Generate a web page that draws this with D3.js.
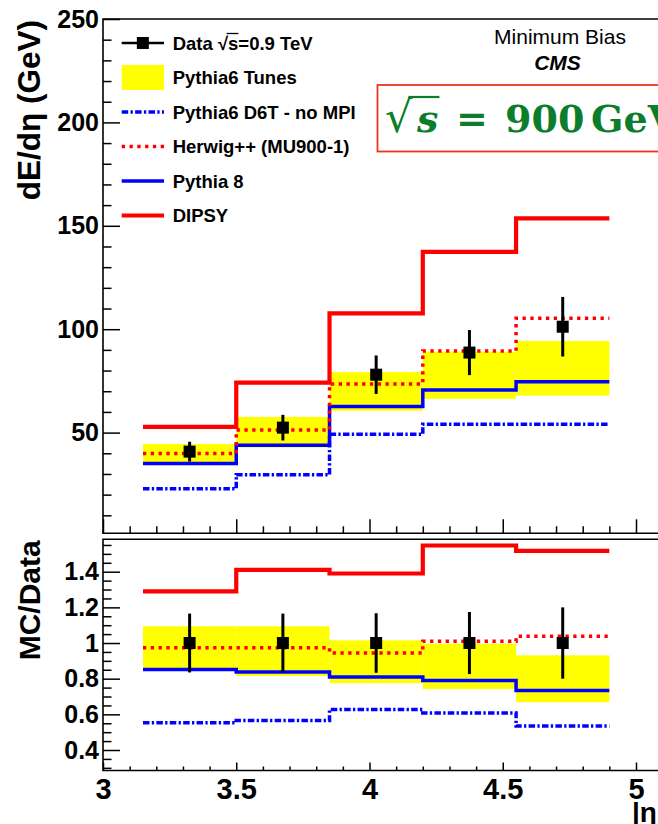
<!DOCTYPE html>
<html>
<head>
<meta charset="utf-8">
<script src="https://cdn.jsdelivr.net/npm/d3@7"></script>
<style>
  body { margin: 0; background: #fff; }
  svg { display: block; }
  text { font-family: "Liberation Sans", Arial, Helvetica, sans-serif; }
  text.serif { font-family: "DejaVu Serif", "Liberation Serif", serif; }
</style>
</head>
<body>
<svg id="chart" width="658" height="824"></svg>
<script>
// ---- binning in |eta| ----
const binEdges   = [3.15, 3.5, 3.85, 4.2, 4.55, 4.9];
const binCenters = [3.325, 3.675, 4.025, 4.375, 4.725];

// ---- energy flow dE/deta (GeV) ----
const dataValues = [40.8, 52.4, 78.0, 88.7, 101.2];
const dataErrors = [4.8, 6.2, 9.3, 10.9, 14.4];
const tunesLow   = [34.4, 42.8, 60.6, 66.3, 67.9];
const tunesHigh  = [44.5, 57.6, 79.3, 89.1, 94.3];
const d6tNoMpi   = [22.8, 29.6, 49.2, 54.0, 54.0];
const herwigMU   = [39.9, 51.2, 73.5, 89.5, 105.3];
const pythia8    = [35.0, 43.9, 62.6, 70.6, 74.6];
const dipsy      = [52.8, 74.2, 107.7, 137.4, 153.6];

// ---- MC / Data ratios ----
const ratioDataErrors = [0.165, 0.165, 0.167, 0.174, 0.200];
const ratioTunesLow   = [0.846, 0.815, 0.775, 0.742, 0.668];
const ratioTunesHigh  = [1.094, 1.094, 1.015, 0.997, 0.931];
const ratioD6T        = [0.553, 0.566, 0.627, 0.607, 0.534];
const ratioHerwig     = [0.974, 0.974, 0.944, 1.010, 1.038];
const ratioPythia8    = [0.852, 0.837, 0.809, 0.790, 0.734];
const ratioDipsy      = [1.290, 1.410, 1.390, 1.547, 1.517];

// ---- tick labels ----
const xMajorTicks   = [3, 3.5, 4, 4.5, 5];
const yTopMajor     = [50, 100, 150, 200, 250];
const yRatioMajor   = [0.4, 0.6, 0.8, 1, 1.2, 1.4];

// ---- legend ----
const legendLabels = ["Data \u221As=0.9 TeV", "Pythia6 Tunes", "Pythia6 D6T - no MPI",
                      "Herwig++ (MU900-1)", "Pythia 8", "DIPSY"];

const RED = "#ff0000", BLUE = "#0000ff", YELLOW = "#ffff00";
const styles = {
  d6t:    { stroke: BLUE, width: 3.5, dash: "6.5,2.3,2.3,2.3" },
  herwig: { stroke: RED,  width: 3.5, dash: "3.3,4.5" },
  py8:    { stroke: BLUE, width: 3.5, dash: null },
  dipsy:  { stroke: RED,  width: 4.2, dash: null }
};

const svg = d3.select("#chart");

// scales
const x = d3.scaleLinear().domain([3, 5]).range([103, 636]);
const xEnd = x(5.2);
const yTop = d3.scaleLinear().domain([0, 250]).range([536, 19]);
const topFrame = { y0: yTop(250), y1: 533.3 };
const yRat = d3.scaleLinear().domain([0.4, 1.4]).range([750, 571.7]);
const ratFrame = { y0: 539.3, y1: 770.5 };

function stepPoints(vals) {
  const pts = [];
  vals.forEach((v, i) => { pts.push([binEdges[i], v]); pts.push([binEdges[i + 1], v]); });
  return pts;
}

function drawPanel(g, y, band, curves, dVals, dErrs) {
  // yellow tune envelope
  g.append("g").selectAll("rect").data(band.lo).join("rect")
    .attr("x", (d, i) => x(binEdges[i]))
    .attr("width", (d, i) => x(binEdges[i + 1]) - x(binEdges[i]))
    .attr("y", (d, i) => y(band.hi[i]))
    .attr("height", (d, i) => y(d) - y(band.hi[i]))
    .attr("fill", YELLOW);

  const line = d3.line().x(d => x(d[0])).y(d => y(d[1]));
  curves.forEach(c => {
    g.append("path")
      .attr("d", line(stepPoints(c.vals)))
      .attr("fill", "none")
      .attr("stroke", c.style.stroke)
      .attr("stroke-width", c.style.width)
      .attr("stroke-dasharray", c.style.dash)
      .attr("stroke-linejoin", "miter");
  });

  // data points with errors
  const pts = g.append("g");
  dVals.forEach((v, i) => {
    pts.append("line")
      .attr("x1", x(binCenters[i])).attr("x2", x(binCenters[i]))
      .attr("y1", y(v + dErrs[i])).attr("y2", y(v - dErrs[i]))
      .attr("stroke", "#000").attr("stroke-width", 3);
    pts.append("rect")
      .attr("x", x(binCenters[i]) - 6).attr("y", y(v) - 6)
      .attr("width", 12).attr("height", 12).attr("fill", "#000");
  });
}

// ---------- top panel ----------
const gTop = svg.append("g");
drawPanel(gTop, yTop, { lo: tunesLow, hi: tunesHigh },
  [ { vals: d6tNoMpi, style: styles.d6t },
    { vals: pythia8,  style: styles.py8 },
    { vals: herwigMU, style: styles.herwig },
    { vals: dipsy,    style: styles.dipsy } ],
  dataValues, dataErrors);

// ---------- ratio panel ----------
const gRat = svg.append("g");
drawPanel(gRat, yRat, { lo: ratioTunesLow, hi: ratioTunesHigh },
  [ { vals: ratioD6T,     style: styles.d6t },
    { vals: ratioPythia8, style: styles.py8 },
    { vals: ratioHerwig,  style: styles.herwig },
    { vals: ratioDipsy,   style: styles.dipsy } ],
  ratioDipsy.map(() => 1), ratioDataErrors);

// ---------- frames ----------
function frame(f) {
  svg.append("path")
    .attr("d", `M${xEnd},${f.y0}H${x(3)}V${f.y1}H${xEnd}`)
    .attr("fill", "none").attr("stroke", "#000").attr("stroke-width", 1.6);
}
frame(topFrame);
frame(ratFrame);

// ---------- axes ----------
const r10 = v => Math.round(v * 100) / 100;
const xMinor = d3.range(31, 52).map(i => i / 10).filter(v => !xMajorTicks.includes(r10(v)));

function styleAxis(sel, fontSize) {
  sel.select(".domain").remove();
  sel.selectAll(".tick line").attr("stroke", "#000").attr("stroke-width", 1.5);
  sel.selectAll("text").attr("fill", "#000").attr("font-size", fontSize)
    .attr("font-weight", "bold");
}

// top panel y
svg.append("g").attr("transform", `translate(${x(3)},0)`)
  .call(d3.axisLeft(yTop).tickValues(d3.range(10, 251, 10).filter(v => v % 50 !== 0))
    .tickSizeInner(-8.5).tickSizeOuter(0).tickFormat(""))
  .call(s => styleAxis(s, 25));
svg.append("g").attr("transform", `translate(${x(3)},0)`)
  .call(d3.axisLeft(yTop).tickValues(yTopMajor).tickSizeInner(-17).tickSizeOuter(0)
    .tickPadding(4).tickFormat(d3.format("d")))
  .call(s => styleAxis(s, 25));

// top panel x (no labels)
svg.append("g").attr("transform", `translate(0,${topFrame.y1})`)
  .call(d3.axisBottom(x).tickValues(xMinor).tickSizeInner(-7).tickSizeOuter(0).tickFormat(""))
  .call(s => styleAxis(s, 0));
svg.append("g").attr("transform", `translate(0,${topFrame.y1})`)
  .call(d3.axisBottom(x).tickValues(xMajorTicks).tickSizeInner(-14).tickSizeOuter(0).tickFormat(""))
  .call(s => styleAxis(s, 0));

// ratio y
const ratMinor = d3.range(6, 32).map(i => i * 0.05).filter(v => !yRatioMajor.some(m => Math.abs(m - v) < 1e-6));
svg.append("g").attr("transform", `translate(${x(3)},0)`)
  .call(d3.axisLeft(yRat).tickValues(ratMinor).tickSizeInner(-8.5).tickSizeOuter(0).tickFormat(""))
  .call(s => styleAxis(s, 25));
svg.append("g").attr("transform", `translate(${x(3)},0)`)
  .call(d3.axisLeft(yRat).tickValues(yRatioMajor).tickSizeInner(-17).tickSizeOuter(0)
    .tickPadding(4).tickFormat(d3.format("~g")))
  .call(s => styleAxis(s, 25));

// ratio x
svg.append("g").attr("transform", `translate(0,${ratFrame.y1})`)
  .call(d3.axisBottom(x).tickValues(xMinor).tickSizeInner(-4).tickSizeOuter(0).tickFormat(""))
  .call(s => styleAxis(s, 0));
svg.append("g").attr("transform", `translate(0,${ratFrame.y1})`)
  .call(d3.axisBottom(x).tickValues(xMajorTicks).tickSizeInner(-8).tickSizeOuter(0)
    .tickPadding(8).tickFormat(d3.format("~g")))
  .call(s => styleAxis(s, 29));

// ---------- axis titles ----------
svg.append("text").attr("transform", "translate(40,20) rotate(-90)")
  .attr("text-anchor", "end").attr("font-size", 31.5).attr("font-weight", "bold")
  .text("dE/d\u03B7 (GeV)");
svg.append("text").attr("transform", `translate(40,${ratFrame.y0 + 1}) rotate(-90)`)
  .attr("text-anchor", "end").attr("font-size", 30).attr("font-weight", "bold")
  .text("MC/Data");
svg.append("text").attr("x", 632).attr("y", 822)
  .attr("font-size", 28).attr("font-weight", "bold").text("|\u03B7|");

// ---------- legend ----------
const legRows = [43, 77.5, 112, 146.5, 181, 215.5];
const legX0 = 121.7, legX1 = 164, legTextX = 172.7;
const leg = svg.append("g");
// data marker
leg.append("line").attr("x1", legX0).attr("x2", legX1).attr("y1", legRows[0]).attr("y2", legRows[0])
  .attr("stroke", "#000").attr("stroke-width", 2.5);
leg.append("rect").attr("x", (legX0 + legX1) / 2 - 6).attr("y", legRows[0] - 6)
  .attr("width", 12).attr("height", 12).attr("fill", "#000");
// tunes band
leg.append("rect").attr("x", legX0).attr("y", legRows[1] - 12.5)
  .attr("width", legX1 - legX0).attr("height", 25).attr("fill", YELLOW);
// model lines
[styles.d6t, styles.herwig, styles.py8, styles.dipsy].forEach((s, k) => {
  const yy = legRows[k + 2];
  leg.append("line").attr("x1", legX0).attr("x2", legX1).attr("y1", yy).attr("y2", yy)
    .attr("stroke", s.stroke).attr("stroke-width", s.width).attr("stroke-dasharray", s.dash);
});
const legText = leg.selectAll("text.lt").data(legendLabels).join("text")
  .attr("class", "lt")
  .attr("x", legTextX).attr("y", (d, i) => legRows[i] + 6.6)
  .attr("font-size", 18.5).attr("font-weight", "bold").text(d => d);
// radical bar over "s" in the data label
{
  const node = legText.nodes()[0];
  const ext = node.getExtentOfChar(6);
  const rad = node.getExtentOfChar(5);
  leg.append("line").attr("x1", rad.x + rad.width - 1.5).attr("x2", ext.x + ext.width)
    .attr("y1", legRows[0] - 9.5).attr("y2", legRows[0] - 9.5)
    .attr("stroke", "#000").attr("stroke-width", 1.3);
}

// ---------- labels top right ----------
svg.append("text").attr("x", 560).attr("y", 43.5).attr("text-anchor", "middle")
  .attr("font-size", 21).text("Minimum Bias");
svg.append("text").attr("x", 557.5).attr("y", 70).attr("text-anchor", "middle")
  .attr("font-size", 21).attr("font-weight", "bold").attr("font-style", "italic").text("CMS");

// energy box
const GREEN = "#0b7d2c";
svg.append("rect").attr("x", 377.5).attr("y", 85).attr("width", 320).attr("height", 66.5)
  .attr("fill", "none").attr("stroke", "#f2321e").attr("stroke-width", 1.8);
const eText = svg.append("text").attr("class", "serif").attr("y", 132)
  .attr("fill", GREEN).attr("font-weight", "bold").attr("font-size", 38);
eText.append("tspan").attr("x", 385).attr("font-weight", "normal").attr("font-size", 43).text("\u221A");
eText.append("tspan").attr("x", 417).attr("font-style", "italic").text("s");
eText.append("tspan").attr("x", 456).text("=");
eText.append("tspan").attr("x", 505).text("900");
eText.append("tspan").attr("x", 591).text("GeV");
{
  const node = eText.node();
  const sExt = node.getExtentOfChar(1);
  const rExt = node.getExtentOfChar(0);
  svg.append("line").attr("x1", rExt.x + rExt.width - 4).attr("x2", sExt.x + sExt.width + 1)
    .attr("y1", 97).attr("y2", 97).attr("stroke", GREEN).attr("stroke-width", 2.2);
}
</script>
</body>
</html>
